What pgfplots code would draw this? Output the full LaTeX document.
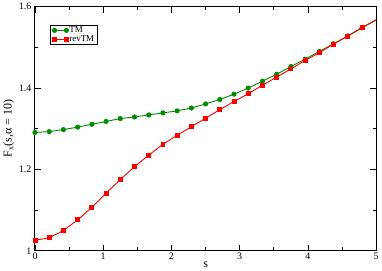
\documentclass[border=0pt]{standalone}
\usepackage{fontspec}
\setmainfont{Liberation Serif}
\usepackage{pgfplots}
\pgfplotsset{compat=1.18}
\definecolor{tmgreen}{RGB}{0,140,0}
\definecolor{revred}{RGB}{255,0,0}
\begin{document}
\begin{tikzpicture}
\begin{axis}[
    scale only axis,
    width=341bp, height=244bp,
    xmin=0, xmax=5, ymin=1.0, ymax=1.6,
    xtick={0,1,2,3,4,5}, ytick={1.0,1.2,1.4,1.6},
    minor xtick={0.5,1.5,2.5,3.5,4.5},
    minor ytick={1.1,1.3,1.5},
    yticklabels={1,1.2,1.4,1.6},
    tick align=inside,
    major tick length=6bp, minor tick length=3.5bp,
    every tick/.style={black, line width=0.9pt},
    axis line style={line width=1pt},
    tick label style={font=\fontsize{10}{11}\selectfont},
    /pgf/number format/assume math mode=true,
    xlabel={s}, ylabel={F\textsubscript{x}(s,α = 10)},
    label style={font=\fontsize{12}{13}\selectfont},
    xlabel style={yshift=5bp},
    ylabel style={yshift=-2bp},
    xticklabel style={yshift=1bp},
    legend style={at={(0.044,0.927)}, anchor=north west, draw=black,
        line width=0.8pt, font=\fontsize{9}{9.5}\selectfont,
        inner xsep=2pt, inner ysep=1pt, row sep=0pt,
        nodes={inner sep=0.8pt}},
    legend cell align=left,
    legend image code/.code={
        \draw[#1] plot coordinates {(0cm,0cm) (0.42cm,0cm)};
    },
]
\addplot[tmgreen, line width=0.9pt, mark=*, mark size=2.1pt, mark options={solid},
    mark indices={1,...,24}]
coordinates {
(0.0000,1.291) (0.2083,1.293) (0.4167,1.298) (0.6250,1.304) (0.8333,1.311)
(1.0417,1.318) (1.2500,1.325) (1.4583,1.329) (1.6667,1.334) (1.8750,1.339)
(2.0833,1.344) (2.2917,1.351) (2.5000,1.361) (2.7083,1.372) (2.9167,1.385)
(3.1250,1.400) (3.3333,1.417) (3.5417,1.434) (3.7500,1.453) (3.9583,1.471)
(4.1667,1.490) (4.3750,1.509) (4.5833,1.528) (4.7917,1.548) (5.0000,1.567)
};
\addlegendentry{TM}
\addplot[revred, line width=0.9pt, mark=square*, mark size=2.0pt,
    mark indices={1,...,24}]
coordinates {
(0.0000,1.026) (0.2083,1.032) (0.4167,1.050) (0.6250,1.076) (0.8333,1.107)
(1.0417,1.142) (1.2500,1.175) (1.4583,1.207) (1.6667,1.235) (1.8750,1.262)
(2.0833,1.284) (2.2917,1.305) (2.5000,1.326) (2.7083,1.347) (2.9167,1.367)
(3.1250,1.386) (3.3333,1.407) (3.5417,1.427) (3.7500,1.447) (3.9583,1.468)
(4.1667,1.487) (4.3750,1.508) (4.5833,1.528) (4.7917,1.549) (5.0000,1.568)
};
\addlegendentry{revTM}
\end{axis}
\end{tikzpicture}
\end{document}
